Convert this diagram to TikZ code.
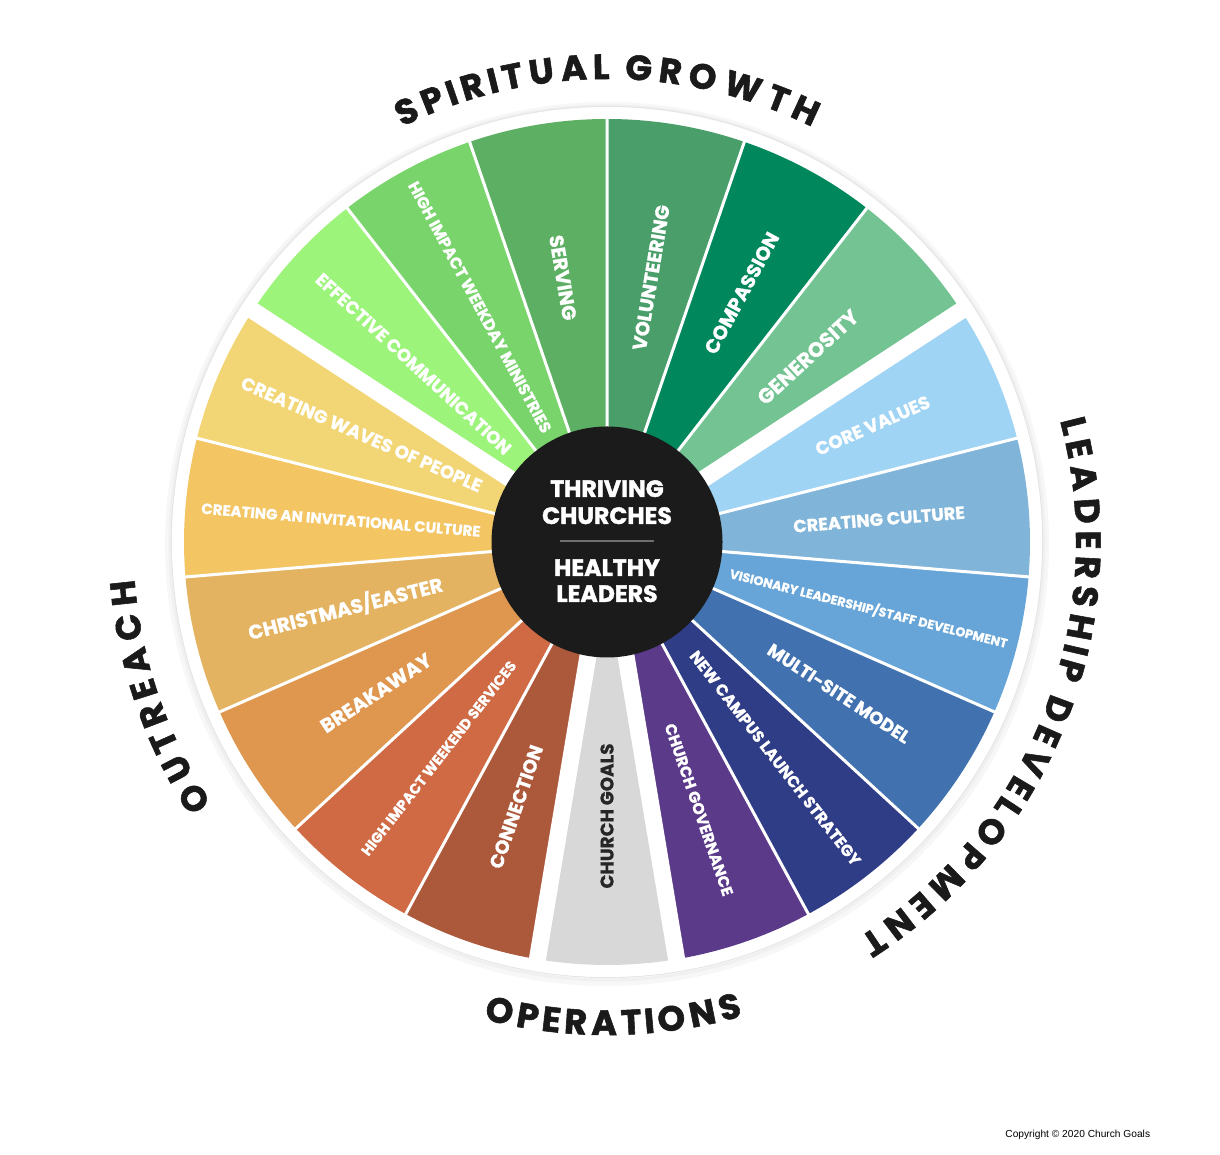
\documentclass[tikz,border=0pt]{standalone}
\usepackage{fontspec}
\setmainfont{Poppins}
\newfontfamily\headfont{Poppins}[BoldFeatures={FakeBold=1.6}]
\newfontfamily\labfont{Poppins}[BoldFeatures={FakeBold=0.8}]
\newfontfamily\copyfont{Liberation Sans}
\usepackage{graphicx}
\usetikzlibrary{decorations.text}
\definecolor{c0}{HTML}{9CF47A}
\definecolor{c1}{HTML}{79D46C}
\definecolor{c2}{HTML}{5DAF63}
\definecolor{c3}{HTML}{4A9E6A}
\definecolor{c4}{HTML}{00875B}
\definecolor{c5}{HTML}{74C493}
\definecolor{c6}{HTML}{A0D4F5}
\definecolor{c7}{HTML}{80B4D8}
\definecolor{c8}{HTML}{67A5D8}
\definecolor{c9}{HTML}{4171AF}
\definecolor{c10}{HTML}{2F3C86}
\definecolor{c11}{HTML}{5B3A8A}
\definecolor{c12}{HTML}{D8D8D8}
\definecolor{c13}{HTML}{AC593B}
\definecolor{c14}{HTML}{D06A45}
\definecolor{c15}{HTML}{DF964F}
\definecolor{c16}{HTML}{E4B362}
\definecolor{c17}{HTML}{F3C563}
\definecolor{c18}{HTML}{F2D675}
\definecolor{hubcol}{HTML}{1B1B1B}
\definecolor{headcol}{HTML}{1A1A1A}
\definecolor{goalcol}{HTML}{262626}
\definecolor{rulecol}{HTML}{6E6E6E}
\newcommand\wlabel[6]{%
  \pgfmathsetmacro\wrot{((#2>-90) && (#2<90)) ? #2 : #2+180}%
  \node[wlab, rotate=\wrot, text=#5] (#1) at (#2:#3) {\resizebox{#4pt}{!}{\labfont\bfseries #6}};%
}
\tikzset{
  wlab/.style={inner sep=0pt, anchor=center},
  hubtext/.style={text=white, font=\headfont\bfseries\fontsize{11.8}{13}\selectfont, inner sep=0pt, anchor=base},
  heading/.style={decorate, decoration={text effects along path, text={#1},
    text effects/.cd, text along path, fit text to path,
    characters={text=headcol, font=\headfont\bfseries\fontsize{17.5}{17.5}\selectfont}}}
}
\begin{document}
\begin{tikzpicture}[x=0.5pt, y=0.5pt]
\useasboundingbox (0,0) rectangle (1220,1155);
\begin{scope}[shift={(607,613)}]
  % outer white disc with soft edge
  \draw[black!3, line width=3pt] (0,-2) circle[radius=439];
  \draw[black!6, line width=1.5pt] (0,-1) circle[radius=437];
  \draw[black!10, line width=0.6pt] (0,0) circle[radius=435.5];
  \fill[white] (0,0) circle[radius=435];
  % wedges
  \foreach \j/\col in {0/c0,1/c1,2/c2,3/c3,4/c4,5/c5,6/c6,7/c7,8/c8,9/c9,10/c10,11/c11,12/c12,13/c13,14/c14,15/c15,16/c16,17/c17,18/c18}{
    \pgfmathsetmacro\wa{146.842-\j*18.947}
    \pgfmathsetmacro\wb{\wa-18.947}
    \fill[\col] (0,0) -- (\wa:423) arc[start angle=\wa, end angle=\wb, radius=423] -- cycle;
  }
  \foreach \j in {0,...,18}{
    \pgfmathsetmacro\wa{146.842-\j*18.947}
    \draw[white, line width=1.5pt] (0,0) -- (\wa:425);
  }
  \foreach \wa in {146.842,33.158,-80.526,-99.474}{
    \draw[white, line width=8.5pt] (0,0) -- (\wa:430);
  }
  % hub
  \fill[hubcol] (0,0) circle[radius=115.5];
  % labels
  \wlabel{l0}{137.368}{263}{129}{white}{EFFECTIVE COMMUNICATION}
  \wlabel{l1}{118.421}{267}{141.5}{white}{HIGH IMPACT WEEKDAY MINISTRIES}
  \wlabel{l2}{99.474}{268}{43}{white}{SERVING}
  \wlabel{l3}{80.526}{268}{73.5}{white}{VOLUNTEERING}
  \wlabel{l4}{61.579}{283}{67.5}{white}{COMPASSION}
  \wlabel{l5}{42.632}{273}{64.5}{white}{GENEROSITY}
  \wlabel{l6}{23.684}{290}{61.5}{white}{CORE VALUES}
  \wlabel{l7}{4.737}{273}{86}{white}{CREATING CULTURE}
  \wlabel{l8}{-14.211}{270}{143}{white}{VISIONARY LEADERSHIP/STAFF DEVELOPMENT}
  \wlabel{l9}{-33.158}{277}{83}{white}{MULTI-SITE MODEL}
  \wlabel{l10}{-52.105}{274}{133.5}{white}{NEW CAMPUS LAUNCH STRATEGY}
  \wlabel{l11}{-71.053}{283}{90.5}{white}{CHURCH GOVERNANCE}
  \wlabel{l12}{-90}{274}{72.5}{goalcol}{CHURCH GOALS}
  \wlabel{l13}{-108.947}{280}{64.5}{white}{CONNECTION}
  \wlabel{l14}{-127.895}{274}{121}{white}{HIGH IMPACT WEEKEND SERVICES}
  \wlabel{l15}{-146.842}{276}{64}{white}{BREAKAWAY}
  \wlabel{l16}{-165.789}{270}{100}{white}{CHRISTMAS/EASTER}
  \wlabel{l17}{-184.737}{267}{140}{white}{CREATING AN INVITATIONAL CULTURE}
  \wlabel{l18}{-203.684}{268}{130.5}{white}{CREATING WAVES OF PEOPLE}
  % hub text
  \node[hubtext] (t1) at (0,45) {THRIVING};
  \node[hubtext] (t2) at (0,18) {CHURCHES};
  \node[hubtext] (t3) at (0,-34) {HEALTHY};
  \node[hubtext] (t4) at (0,-60) {LEADERS};
  \draw[rulecol, line width=0.8pt] (-47,1) -- (47,1);
  % headings
  \path[heading={SPIRITUAL GROWTH}] (116.3:463) arc[start angle=116.3, end angle=63.7, radius=463];
  \path[heading={LEADERSHIP DEVELOPMENT}] (15:469) arc[start angle=15, end angle=-57.5, radius=469];
  \path[heading={OUTREACH}] (213.5:474) arc[start angle=213.5, end angle=184.5, radius=474];
  \path[heading={OPERATIONS}] (255.5:493) arc[start angle=255.5, end angle=286, radius=493];
\end{scope}
\node[anchor=base west, inner sep=0pt, font=\copyfont\fontsize{5.1}{6}\selectfont] (copy) at (1005,17) {Copyright © 2020 Church Goals};
\end{tikzpicture}
\end{document}
